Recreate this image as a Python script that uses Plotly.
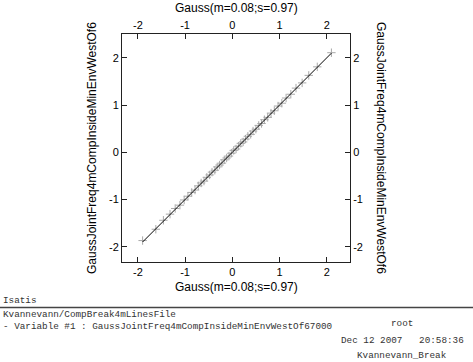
import plotly.graph_objects as go

# ---- data ----
gauss_x = [-1.90, -1.62, -1.46, -1.32, -1.21, -1.11, -1.02, -0.94, -0.86, -0.79,
           -0.72, -0.66, -0.60, -0.54, -0.48, -0.43, -0.37, -0.32, -0.27, -0.22,
           -0.17, -0.12, -0.07, -0.02, 0.03, 0.08, 0.13, 0.18, 0.23, 0.28,
           0.33, 0.39, 0.44, 0.50, 0.56, 0.62, 0.68, 0.75, 0.82, 0.89,
           0.97, 1.05, 1.14, 1.24, 1.35, 1.48, 1.62, 1.80, 2.10]
variable_y = [-1.87, -1.63, -1.44, -1.31, -1.19, -1.12, -1.01, -0.93, -0.85, -0.80,
              -0.71, -0.65, -0.61, -0.53, -0.48, -0.42, -0.38, -0.31, -0.27, -0.23,
              -0.16, -0.12, -0.08, -0.02, 0.04, 0.07, 0.13, 0.19, 0.22, 0.28,
              0.34, 0.38, 0.45, 0.49, 0.57, 0.61, 0.69, 0.74, 0.83, 0.88,
              0.98, 1.04, 1.15, 1.23, 1.36, 1.47, 1.63, 1.81, 2.11]
line_x = [-1.90, 2.10]
line_y = [-1.90, 2.10]
tick_vals = [-2, -1, 0, 1, 2]
tick_text = ["-2", "-1", "0", "1", "2"]
axis_title_x = "Gauss(m=0.08;s=0.97)"
axis_title_y = "GaussJointFreq4mCompInsideMinEnvWestOf6"
footer_left = ["Isatis", "Kvannevann/CompBreak4mLinesFile",
               "- Variable #1 : GaussJointFreq4mCompInsideMinEnvWestOf67000"]
footer_right = ["root", "Dec 12 2007   20:58:36", "Kvannevann_Break"]

W, H = 473, 362
x_range = [-2.337, 2.494]
y_range = [-2.324, 2.506]
L, R, T, B = 122, 350, 34, 262

fig = go.Figure()
fig.add_trace(go.Scatter(x=gauss_x, y=variable_y, mode="markers",
                         marker=dict(symbol="cross-thin", size=6,
                                     line=dict(color="#a8a8a8", width=1)),
                         showlegend=False, hoverinfo="skip"))
fig.add_trace(go.Scatter(x=line_x, y=line_y, mode="lines",
                         line=dict(color="black", width=1),
                         showlegend=False, hoverinfo="skip"))
fig.add_trace(go.Scatter(x=line_x, y=line_y, mode="lines", xaxis="x2", yaxis="y2",
                         line=dict(color="rgba(0,0,0,0)", width=0),
                         showlegend=False, hoverinfo="skip"))

font_tick = dict(family="Liberation Sans, Arial", size=11, color="black")
common = dict(tickvals=tick_vals, ticktext=tick_text, ticks="inside", ticklen=5,
              tickcolor="#222222", showline=True, linecolor="#222222", linewidth=1,
              showgrid=False, zeroline=False, tickfont=font_tick)

xd = [L / W, R / W]
yd = [1 - B / H, 1 - T / H]
fig.update_layout(
    width=W, height=H, margin=dict(l=0, r=0, t=0, b=0),
    paper_bgcolor="white", plot_bgcolor="white",
    xaxis=dict(domain=xd, range=x_range, anchor="y", side="bottom", **common),
    yaxis=dict(domain=yd, range=y_range, anchor="x", side="left", **common),
    xaxis2=dict(domain=xd, range=x_range, anchor="y2", overlaying="x", side="top", **common),
    yaxis2=dict(domain=yd, range=y_range, anchor="x2", overlaying="y", side="right", **common),
)

ann_font = dict(family="Liberation Sans, Arial", size=12, color="black")
def px_x(p):
    return p / W
def px_y(p):
    return 1 - p / H

anns = [
    dict(x=px_x(236), y=px_y(8), text=axis_title_x, font=ann_font),
    dict(x=px_x(236), y=px_y(287), text=axis_title_x, font=ann_font),
    dict(x=px_x(92), y=px_y(148), text=axis_title_y, textangle=-90, font=ann_font),
    dict(x=px_x(381), y=px_y(148), text=axis_title_y, textangle=90, font=ann_font),
]
mono = dict(family="Liberation Mono, Courier New, monospace", size=9.3, color="#333333")
left_y = [300, 314, 326]
for t, yy in zip(footer_left, left_y):
    anns.append(dict(x=px_x(1), y=px_y(yy), text=t, xanchor="left", font=mono))
right_y = [323, 340, 355]
for t, yy in zip(footer_right, right_y):
    anns.append(dict(x=px_x(402), y=px_y(yy), text=t, font=mono))
for a in anns:
    a.setdefault("xanchor", "center")
    a.update(xref="paper", yref="paper", yanchor="middle", showarrow=False)
fig.update_layout(annotations=anns)

fig.add_shape(type="line", xref="paper", yref="paper", x0=0, x1=1,
              y0=px_y(307.5), y1=px_y(307.5), line=dict(color="#444444", width=1.5))

fig.write_html("out.html", config={"displayModeBar": False},
               post_script="document.body.style.margin='0';document.body.style.overflow='hidden';")
